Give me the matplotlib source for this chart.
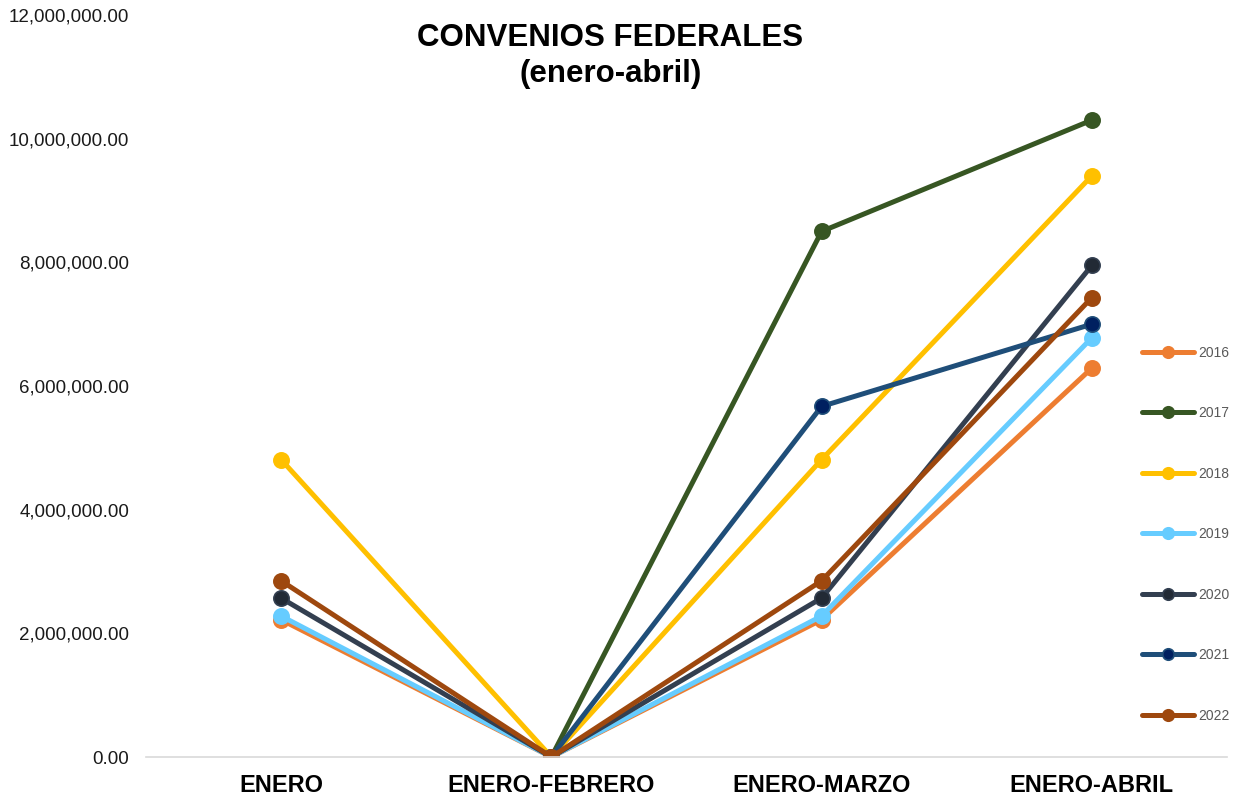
import numpy as np
import matplotlib.pyplot as plt
from matplotlib.ticker import FuncFormatter

plt.rcParams['font.family'] = ['Liberation Sans', 'DejaVu Sans']

periodos = ["ENERO", "ENERO-FEBRERO", "ENERO-MARZO", "ENERO-ABRIL"]
anios = ["2016", "2017", "2018", "2019", "2020", "2021", "2022"]

v2016 = [2220000, 0, 2220000, 6290000]
v2017 = [np.nan, 0, 8500000, 10300000]
v2018 = [4810000, 0, 4810000, 9400000]
v2019 = [2280000, 0, 2280000, 6780000]
v2020 = [2570000, 0, 2570000, 7950000]
v2021 = [np.nan, 0, 5670000, 7000000]
v2022 = [2850000, 0, 2850000, 7430000]

series = [v2016, v2017, v2018, v2019, v2020, v2021, v2022]
line_colors = ["#ED7D31", "#375623", "#FFC000", "#66CCFF", "#333F50", "#1F4E79", "#9E480E"]
marker_colors = ["#ED7D31", "#375623", "#FFC000", "#66CCFF", "#222A35", "#002060", "#9E480E"]

fig = plt.figure(figsize=(12.33, 7.97), dpi=100)
ax = fig.add_axes([146 / 1233, 40 / 797, 1081 / 1233, 742 / 797])

x = np.arange(len(periodos))
for vals, lab, lc, mc in zip(series, anios, line_colors, marker_colors):
    ax.plot(x, vals, color=lc, lw=3.6, marker="o", markersize=11,
            markerfacecolor=mc, markeredgecolor=lc, markeredgewidth=1.2,
            label=lab, solid_capstyle="round")

ax.set_xlim(-0.5, 3.5)
ax.set_ylim(0, 12000000)
ax.set_yticks(np.arange(0, 12000001, 2000000))
ax.yaxis.set_major_formatter(FuncFormatter(lambda v, p: f"{v:,.2f}"))
ax.set_xticks(x)
ax.set_xticklabels(periodos, fontsize=17, fontweight="bold", color="black")
ax.tick_params(axis="y", length=0, labelsize=13.5, colors="#1a1a1a", pad=12)
ax.tick_params(axis="x", length=0, pad=12)

for s in ["top", "right", "left"]:
    ax.spines[s].set_visible(False)
ax.spines["bottom"].set_color("#D9D9D9")
ax.spines["bottom"].set_linewidth(1.2)

fig.text(0.495, 1 - 56 / 797, "CONVENIOS FEDERALES\n(enero-abril)", ha="center", va="center",
         fontsize=22.5, fontweight="bold", linespacing=1.3)

leg = fig.legend(loc="upper left", bbox_to_anchor=(1136 / 1233, 1 - 340 / 797),
                 frameon=False, fontsize=10, handlelength=3.8, labelspacing=3.35,
                 handletextpad=0.3, borderaxespad=0, markerscale=0.75)
for t in leg.get_texts():
    t.set_color("#595959")

fig.savefig("out.png", dpi=100)
